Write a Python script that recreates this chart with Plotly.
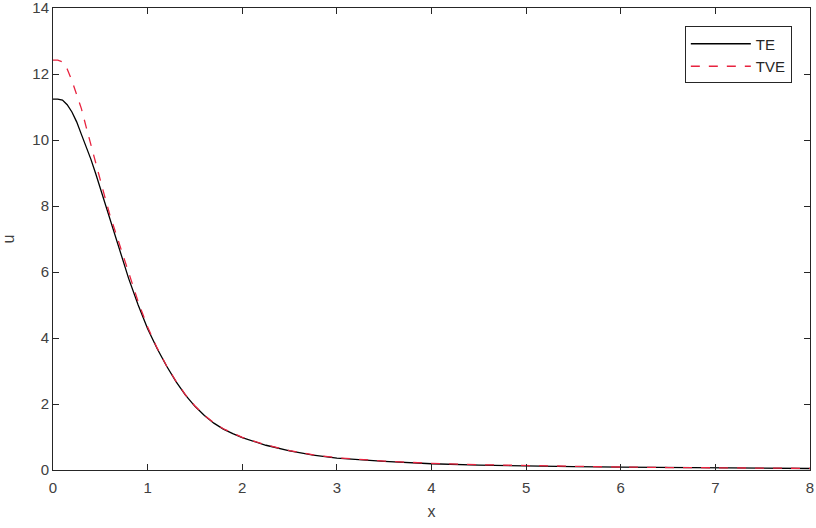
import plotly.graph_objects as go

# -----------------------
# Data
# -----------------------

x = [0, 0.05, 0.1, 0.15, 0.2, 0.25, 0.3, 0.35, 0.4, 0.45, 0.5, 0.55, 0.6, 0.7, 0.8, 0.9,
     1.0, 1.1, 1.2, 1.3, 1.4, 1.5, 1.6, 1.7, 1.8, 1.9, 2.0, 2.25, 2.5, 2.75, 3.0, 3.5,
     4.0, 4.5, 5.0, 5.5, 6.0, 6.5, 7.0, 7.5, 8.0]

te = [11.24, 11.24, 11.21, 11.07, 10.85, 10.55, 10.17, 9.81, 9.42, 8.99, 8.53, 8.08, 7.62,
      6.7, 5.8, 5.0, 4.28, 3.68, 3.15, 2.68, 2.27, 1.93, 1.65, 1.42, 1.24, 1.1, 0.98, 0.75,
      0.58, 0.45, 0.36, 0.26, 0.19, 0.15, 0.12, 0.1, 0.085, 0.07, 0.06, 0.052, 0.045]

tve = [12.42, 12.42, 12.37, 12.15, 11.8, 11.4, 10.95, 10.4, 9.85, 9.28, 8.76, 8.25, 7.74,
       6.85, 5.95, 5.1, 4.33, 3.7, 3.16, 2.69, 2.28, 1.94, 1.66, 1.43, 1.25, 1.11, 0.99, 0.76,
       0.59, 0.46, 0.37, 0.27, 0.2, 0.16, 0.13, 0.11, 0.09, 0.075, 0.065, 0.057, 0.05]

x_ticks = [0, 1, 2, 3, 4, 5, 6, 7, 8]
y_ticks = [0, 2, 4, 6, 8, 10, 12, 14]

# -----------------------
# Figure
# -----------------------

fig = go.Figure()

fig.add_trace(go.Scatter(
    x=x, y=te, name="TE", mode="lines",
    line=dict(color="black", width=1.3)
))

fig.add_trace(go.Scatter(
    x=x, y=tve, name="TVE", mode="lines",
    line=dict(color="#e8233f", width=1.3, dash="dash")
))

axis_style = dict(
    showline=True, linecolor="#262626", linewidth=1, mirror="ticks",
    ticks="inside", ticklen=6, tickcolor="#262626",
    showgrid=False, zeroline=False, automargin=False,
    ticklabeloverflow="allow",
    tickfont=dict(size=15, color="#404040"),
)

fig.update_xaxes(
    range=[0, 8], tickvals=x_ticks, ticklabelstandoff=4,
    title=dict(text="x", font=dict(size=16, color="#404040"), standoff=10),
    **axis_style
)
fig.update_yaxes(
    range=[0, 14], tickvals=y_ticks,
    title=dict(text="u", font=dict(size=16, color="#404040"), standoff=16),
    **axis_style
)

fig.update_layout(
    width=816, height=528,
    margin=dict(l=53, r=6, t=8, b=58),
    paper_bgcolor="white", plot_bgcolor="white",
    font=dict(family="Liberation Sans, Arial, sans-serif", color="#262626"),
    legend=dict(
        x=0.976, y=0.96, xanchor="right", yanchor="top",
        bgcolor="white", bordercolor="#262626", borderwidth=1,
        font=dict(size=15, color="#262626"),
        itemwidth=60, tracegroupgap=0,
    ),
)

# drop the page's default body margin so the figure sits at the window's corner
fig.write_html(
    "out.html",
    config={"displayModeBar": False},
    post_script="document.body.style.margin='0';",
)
